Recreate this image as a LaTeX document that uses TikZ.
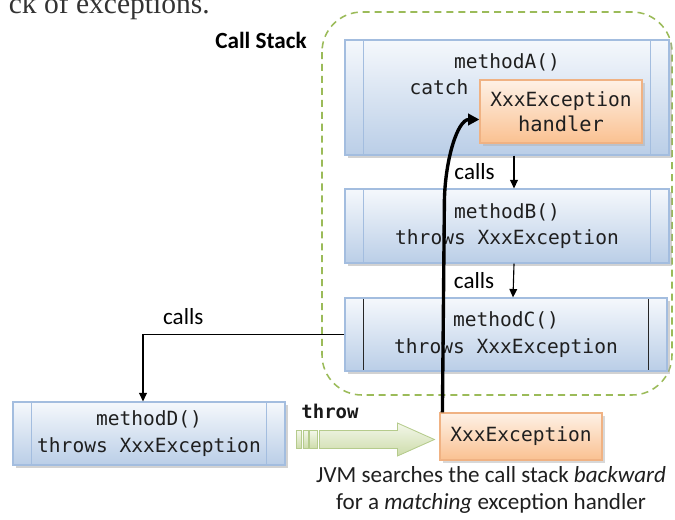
\documentclass[tikz,border=0pt]{standalone}
\usepackage{fontspec}
\setmainfont{Carlito}
\newfontfamily\consol{DejaVu Sans Mono}
\newfontfamily\pagefont{Liberation Serif}
\usetikzlibrary{arrows.meta,calc,shadows}
\definecolor{boxtop}{HTML}{F5F8FC}
\definecolor{boxbot}{HTML}{BACEE7}
\definecolor{bluebd}{HTML}{A3BDDF}
\definecolor{orgtop}{HTML}{FEF1E6}
\definecolor{orgbot}{HTML}{FAC191}
\definecolor{orgbd}{HTML}{F0B283}
\definecolor{grntop}{HTML}{F3F7EA}
\definecolor{grnbot}{HTML}{CDDCAA}
\definecolor{grnbd}{HTML}{B5CB8C}
\definecolor{stackgrn}{HTML}{9BBB59}
\newcommand\monotext{\consol\fontsize{13.9}{19}\selectfont}
\newcommand\labeltext{\fontsize{16.4}{18.6}\selectfont}
\tikzset{
  methodbox/.style={draw=bluebd, line width=0.8pt, top color=boxtop, bottom color=boxbot,
    drop shadow={shadow xshift=2pt, shadow yshift=-2pt, fill=black!35},
    font=\monotext, text=black!88, align=center, inner sep=0pt,
    path picture={
      \draw[line width=0.8pt,#1] ([xshift=13pt]path picture bounding box.north west) -- ([xshift=13pt]path picture bounding box.south west);
      \draw[line width=0.8pt,#1] ([xshift=-13pt]path picture bounding box.north east) -- ([xshift=-13pt]path picture bounding box.south east);}},
  methodbox/.default=bluebd,
  excbox/.style={draw=orgbd, line width=0.8pt, top color=orgtop, bottom color=orgbot,
    drop shadow={shadow xshift=2pt, shadow yshift=-2pt, fill=black!30},
    font=\monotext, text=black!88, align=center, inner sep=0pt},
  callarr/.style={line width=0.8pt, -{Triangle[length=6pt,width=5.5pt]}},
  bigarr/.style={line width=2.4pt, -{Triangle[length=8pt,width=8pt]}},
  greenarr/.style={draw=grnbd, line width=0.6pt, top color=grntop, bottom color=grnbot},
  stackframe/.style={draw=stackgrn, line width=1.1pt, dash pattern=on 5pt off 3.5pt, rounded corners=1cm}
}
\begin{document}
\begin{tikzpicture}[x=0.025cm, y=-0.025cm]
  \useasboundingbox (0,0) rectangle (675,519);
  \clip (0,0) rectangle (675,519);
  \node[anchor=base east, font=\pagefont\fontsize{21}{24}\selectfont, text=black!80, inner sep=0pt] (frag) at (210,14) {ck of exceptions.};

  \draw[stackframe] (322,12) rectangle (672,395);
  \node[font=\bfseries\fontsize{16.5}{20}\selectfont] (cs) at (261,40) {Call Stack};

  \node[methodbox, minimum width=8.1cm, minimum height=2.875cm] (mA) at (507,97.5) {};
  \node[font=\monotext, text=black!88] (mAname) at (507,62) {methodA()};
  \node[excbox, minimum width=4.05cm, minimum height=1.575cm] (hd) at (561,111.5)
    {XxxException\\[-1pt]{\fontsize{14.5}{17}\selectfont handler}};
  \node[font=\monotext, text=black!88, anchor=east] (ct) at ($(hd.north west)+(-6,8)$) {catch};

  \node[methodbox, minimum width=8.1cm, minimum height=1.85cm] (mB) at (507,226) {methodB()\\throws XxxException};
  \node[methodbox=black!85, minimum width=8.05cm, minimum height=1.825cm] (mC) at (506,334.5) {methodC()\\throws XxxException};
  \node[methodbox, minimum width=6.8cm, minimum height=1.575cm] (mD) at (149,433.5) {methodD()\\throws XxxException};
  \node[excbox, minimum width=4.05cm, minimum height=1.175cm] (xe) at (521,436.5) {XxxException};

  \draw[callarr] ($(mA.south)+(7,0)$) -- ($(mB.north)+(7,0)$) node[midway, left=10pt, font=\labeltext] (c1) {calls};
  \draw[callarr] ($(mB.south)+(7,0)$) -- ($(mC.north)+(7,0)$) node[midway, left=10pt, font=\labeltext] (c2) {calls};
  \draw[callarr] (mC.west) -| ($(mD.north)+(-6,0)$) node[pos=0.4, above=3.5pt, font=\labeltext] (c3) {calls};

  % throw arrow
  \coordinate (tp) at ($(xe.west)+(-5,3)$);
  \node[font=\consol\bfseries\fontsize{13.5}{16}\selectfont, text=black!90] (thr) at (330,411) {throw};
  \path[greenarr] (tp) -- ++(-37,-16.5) -- ++(0,7.5) -- ++(-78,0) -- ++(0,18) -- ++(78,0) -- ++(0,7.5) -- cycle;
  \foreach \a/\b in {-138/-133,-131.5/-126.5,-125/-117.5}
    \path[greenarr] ($(tp)+(\a,-9)$) rectangle ($(tp)+(\b,9)$);

  \draw[bigarr] ($(xe.north west)+(3,0)$) -- ++(2,-213) .. controls +(1,-40) and +(-22,0) .. ($(hd.west)+(0,8)$);

  \node[font=\labeltext, align=center, text=black!88] (cap) at (491,490)
    {JVM searches the call stack \textit{backward}\\for a \textit{matching} exception handler};
\end{tikzpicture}
\end{document}
